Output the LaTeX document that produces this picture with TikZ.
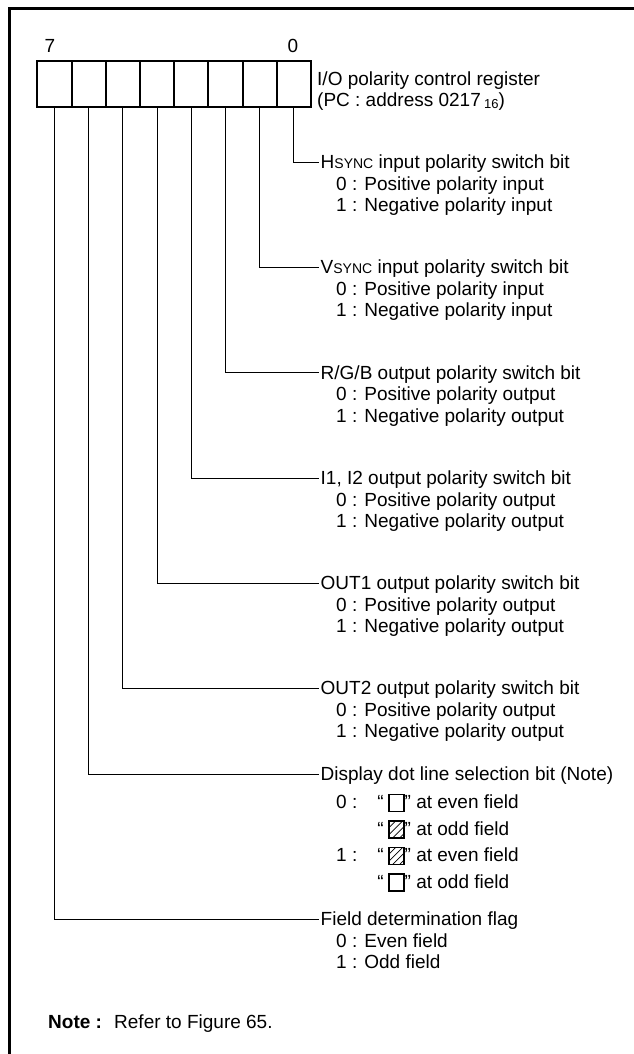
\documentclass[tikz,border=0pt]{standalone}
\usepackage{fontspec}
\setmainfont{Liberation Sans}
\begin{document}
\begin{tikzpicture}[x=1pt,y=-1pt,
  every node/.style={inner sep=0pt, font=\fontsize{19}{21}\selectfont},
  lbl/.style={anchor=west, text height=13.6pt, text depth=0pt, inner xsep=1.5pt},
  sub/.style={anchor=west, text height=13.6pt, text depth=0pt},
  conn/.style={line width=1pt},
  cell/.style={draw, line width=2pt, minimum width=34.2pt, minimum height=46.5pt},
  dotbox/.style={draw, line width=1.2pt, minimum width=15pt, minimum height=17pt},
  hatched/.style={path picture={
    \foreach \k in {-10.5,-3.5,3.5,10.5}
      \draw[line width=0.7pt] ([xshift=\k pt]path picture bounding box.south west) -- ++(24pt,24pt);}}
]
\useasboundingbox (0,0) rectangle (634,1054);
% frame (left and top edges visible)
\draw[line width=2.5pt] (9.5,1070) -- (9.5,8.5) -- (650,8.5);

% register cells
\foreach \i in {0,...,7}{
  \node[cell] (c\i) at ({311-34.2*(\i+0.5)},84.25) {};
}
\node[sub, anchor=center] (n7) at (50,46) {7};
\node[sub, anchor=center] (n0) at (293,46) {0};
\node[sub] (pc1) at (317,79) {I/O polarity control register};
\node[sub] (pc2) at (317,100) {(PC : address 0217\,\raisebox{-1.5pt}{\fontsize{13}{13}\selectfont 16})};

% bit 0
\node[lbl] (h0) at (319,162) {H{\fontsize{14}{14}\selectfont SYNC} input polarity switch bit};
\node[sub] (h0a) at (336,183.5) {0 : Positive polarity input};
\node[sub] (h0b) at (336,205) {1 : Negative polarity input};
\draw[conn] (c0.south) |- (h0.west);

% bit 1
\node[lbl] (h1) at (319,267) {V{\fontsize{14}{14}\selectfont SYNC} input polarity switch bit};
\node[sub] (h1a) at (336,288.5) {0 : Positive polarity input};
\node[sub] (h1b) at (336,310) {1 : Negative polarity input};
\draw[conn] (c1.south) |- (h1.west);

% bit 2
\node[lbl] (h2) at (319,372.5) {R/G/B output polarity switch bit};
\node[sub] (h2a) at (336,394) {0 : Positive polarity output};
\node[sub] (h2b) at (336,415.5) {1 : Negative polarity output};
\draw[conn] (c2.south) |- (h2.west);

% bit 3
\node[lbl] (h3) at (319,478) {I1, I2 output polarity switch bit};
\node[sub] (h3a) at (336,499.5) {0 : Positive polarity output};
\node[sub] (h3b) at (336,521) {1 : Negative polarity output};
\draw[conn] (c3.south) |- (h3.west);

% bit 4
\node[lbl] (h4) at (319,583) {OUT1 output polarity switch bit};
\node[sub] (h4a) at (336,604.5) {0 : Positive polarity output};
\node[sub] (h4b) at (336,626) {1 : Negative polarity output};
\draw[conn] (c4.south) |- (h4.west);

% bit 5
\node[lbl] (h5) at (319,688) {OUT2 output polarity switch bit};
\node[sub] (h5a) at (336,709.5) {0 : Positive polarity output};
\node[sub] (h5b) at (336,731) {1 : Negative polarity output};
\draw[conn] (c5.south) |- (h5.west);

% bit 6
\node[lbl] (h6) at (319,774) {Display dot line selection bit (Note)};
\draw[conn] (c6.south) |- (h6.west);
\node[sub] (p1) at (336,802) {0 :};
\node[sub, anchor=east] (q1) at (384,802) {“};
\node[dotbox] (b1) at (396.5,803) {};
\node[sub] (t1) at (404.5,802) {” at even field};
\node[sub, anchor=east] (q2) at (384,828.5) {“};
\node[dotbox, hatched] (b2) at (396.5,829.5) {};
\node[sub] (t2) at (404.5,828.5) {” at odd field};
\node[sub] (p3) at (336,855) {1 :};
\node[sub, anchor=east] (q3) at (384,855) {“};
\node[dotbox, hatched] (b3) at (396.5,856) {};
\node[sub] (t3) at (404.5,855) {” at even field};
\node[sub, anchor=east] (q4) at (384,881.5) {“};
\node[dotbox] (b4) at (396.5,882.5) {};
\node[sub] (t4) at (404.5,881.5) {” at odd field};

% bit 7
\node[lbl] (h7) at (319,919) {Field determination flag};
\node[sub] (h7a) at (336,940.5) {0 : Even field};
\node[sub] (h7b) at (336,962) {1 : Odd field};
\draw[conn] (c7.south) |- (h7.west);

% note
\node[sub] (note) at (48,1022) {\bfseries Note :};
\node[sub] (ref) at (114,1022) {Refer to Figure 65.};
\end{tikzpicture}
\end{document}
